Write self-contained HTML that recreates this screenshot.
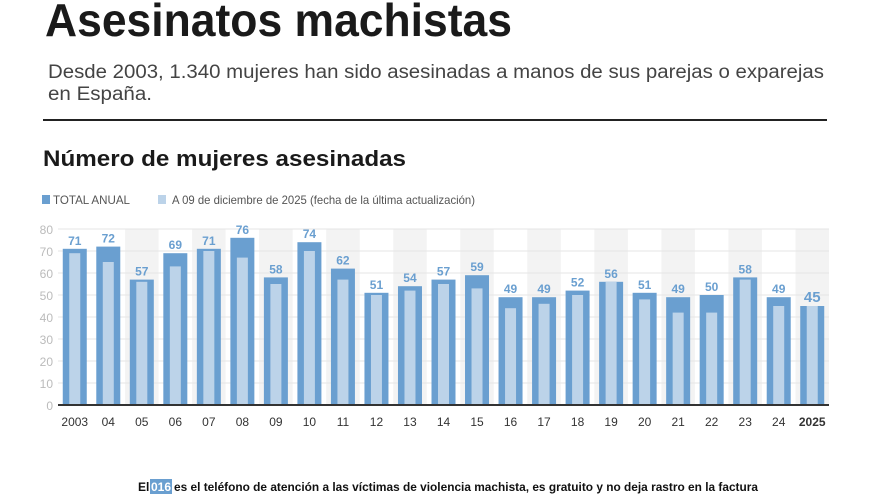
<!DOCTYPE html>
<html><head><meta charset="utf-8"><style>
html,body{margin:0;padding:0;background:#fff;width:880px;height:495px;overflow:hidden}
svg{display:block;font-family:"Liberation Sans",Arial,sans-serif}
</style></head><body>
<svg id="chart" width="880" height="495" viewBox="0 0 880 495">
<text x="45" y="36" font-size="46" font-weight="bold" fill="#1a1a1a" textLength="467" lengthAdjust="spacingAndGlyphs">Asesinatos machistas</text>
<text x="48" y="78" font-size="19" fill="#444" textLength="776" lengthAdjust="spacingAndGlyphs">Desde 2003, 1.340 mujeres han sido asesinadas a manos de sus parejas o exparejas</text>
<text x="48" y="100" font-size="19" fill="#444" textLength="104" lengthAdjust="spacingAndGlyphs">en España.</text>
<rect x="43" y="119" width="784" height="2" fill="#222"/>
<text x="43" y="166" font-size="22" font-weight="bold" fill="#1a1a1a" textLength="363" lengthAdjust="spacingAndGlyphs">Número de mujeres asesinadas</text>
<g>
<rect x="42" y="195" width="8" height="9" fill="#6a9fd0"/>
<text x="53" y="204" font-size="12" fill="#555" textLength="77" lengthAdjust="spacingAndGlyphs">TOTAL ANUAL</text>
<rect x="158" y="195" width="8" height="9" fill="#bcd3e9"/>
<text x="172" y="204" font-size="12" fill="#555" textLength="303" lengthAdjust="spacingAndGlyphs">A 09 de diciembre de 2025 (fecha de la última actualización)</text>
</g>
<g id="plot"></g>
<g>
<text x="138" y="491" font-size="12" font-weight="bold" fill="#111">El</text>
<rect x="150" y="479" width="22" height="15" fill="#6a9fd0"/>
<text x="161" y="491" font-size="12" font-weight="bold" fill="#fff" text-anchor="middle">016</text>
<text x="174" y="491" font-size="12" font-weight="bold" fill="#111" textLength="584" lengthAdjust="spacingAndGlyphs">es el teléfono de atención a las víctimas de violencia machista, es gratuito y no deja rastro en la factura</text>
</g>
</svg>
<script>
const years=["2003","04","05","06","07","08","09","10","11","12","13","14","15","16","17","18","19","20","21","22","23","24","2025"];
const totals=[71,72,57,69,71,76,58,74,62,51,54,57,59,49,49,52,56,51,49,50,58,49,45];
const partial=[69,65,56,63,70,67,55,70,57,50,52,55,53,44,46,50,56,48,42,42,57,45,45];
const yTicks=[0,10,20,30,40,50,60,70,80];
const NS="http://www.w3.org/2000/svg";
const g=document.getElementById('plot');
const x0=58,x1=829,y0=405,yMax=80,yTop=229;
const step=(x1-x0)/years.length;
const yS=v=>y0-(v/yMax)*(y0-yTop);
const xC=i=>x0+step*(i+0.5);
function mk(t,a){const e=document.createElementNS(NS,t);for(const k in a)e.setAttribute(k,a[k]);g.appendChild(e);return e;}
years.forEach((y,i)=>{if(i%2===0&&i>0){const b=mk('rect',{x:x0+step*i,y:yTop,width:step,height:y0-yTop,fill:'#f3f3f3'});

}});
yTicks.forEach(t=>{const l=mk('line',{x1:x0,x2:x1,y1:yS(t),y2:yS(t),stroke:'#e6e6e6','stroke-width':1});


const tx=mk('text',{x:53,y:yS(t)+5,'font-size':12,fill:'#bbb','text-anchor':'end'});tx.textContent=t;

});
years.forEach((y,i)=>{const c=xC(i);
const b=mk('rect',{x:c-12,y:yS(totals[i]),width:24,height:y0-yS(totals[i]),fill:'#6a9fd0'});


const p=mk('rect',{x:c-5.5,y:yS(partial[i]),width:11,height:y0-yS(partial[i]),fill:'#bcd3e9'});


const v=mk('text',{x:c,y:yS(totals[i])-4,'font-size':i===years.length-1?15:12,'font-weight':'bold',fill:'#6a9fd0','text-anchor':'middle'});v.textContent=totals[i];


const xl=mk('text',{x:c,y:426,'font-size':12,fill:'#333','text-anchor':'middle','font-weight':i===years.length-1?'bold':'normal'});xl.textContent=y;

});
const ax=mk('line',{x1:x0,x2:x1,y1:y0,y2:y0,stroke:'#333','stroke-width':2});


</script>
</body></html>
